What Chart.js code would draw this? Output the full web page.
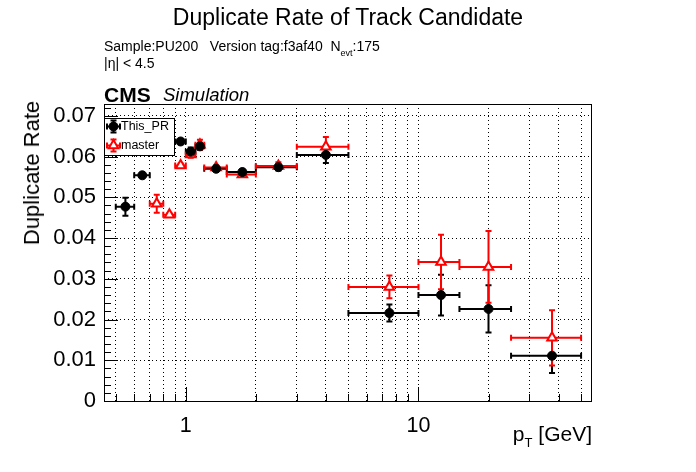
<!DOCTYPE html>
<html>
<head>
<meta charset="utf-8">
<script src="https://cdn.jsdelivr.net/npm/chart.js@4.4.0/dist/chart.umd.min.js"></script>
<style>
  body { margin: 0; background: #fff; }
  #wrap { position: relative; width: 696px; height: 472px; font-family: "Liberation Sans", Arial, sans-serif; color: #000; }
  #c { position: absolute; left: 0; top: 0; }
  .t { position: absolute; white-space: nowrap; line-height: 1; }
  .sub { position: relative; }
</style>
</head>
<body>
<div id="wrap">
  <canvas id="c" width="696" height="472"></canvas>
  <div class="t" style="left:0;width:696px;text-align:center;top:6px;font-size:23px">Duplicate Rate of Track Candidate</div>
  <div class="t" style="left:104px;top:39px;font-size:14px">Sample:PU200&nbsp;&nbsp;&nbsp;Version tag:f3af40&nbsp;&nbsp;N<span class="sub" style="font-size:9px;top:5px">evt</span>:175</div>
  <div class="t" style="left:104px;top:56px;font-size:14px">|η| &lt; 4.5</div>
  <div class="t" style="left:104px;top:84px;font-size:21px;font-weight:bold">CMS</div>
  <div class="t" style="left:163px;top:86px;font-size:18.5px;font-style:italic">Simulation</div>
  <div class="t" style="left:32px;top:173px;font-size:22px;transform:translate(-50%,-50%) rotate(-90deg)">Duplicate Rate</div>
  <div class="t" style="right:104px;top:423px;font-size:21px">p<span class="sub" style="font-size:13px;top:6px">T</span> [GeV]</div>
  <div class="t" style="left:121px;top:120px;font-size:12.5px">This_PR</div>
  <div class="t" style="left:121px;top:139px;font-size:12.5px">master</div>
</div>
<script>
// bin edges in pT [GeV]
const binLow  = [0.5, 0.6, 0.7, 0.8, 0.9, 1.0, 1.1, 1.2, 1.5, 2, 3, 5, 10, 15, 25];
const binHigh = [0.6, 0.7, 0.8, 0.9, 1.0, 1.1, 1.2, 1.5, 2, 3, 5, 10, 15, 25, 50];

// This_PR
const prRate = [0.0477, 0.0554, null, null, 0.0637, 0.0612, 0.0625, 0.0570, 0.0562, 0.0574, 0.0604, 0.0216, 0.0260, 0.0226, 0.0111];
const prErr  = [0.0022, 0.0004, null, null, 0.0004, 0.0010, 0.0008, 0.0005, 0.0006, 0.0008, 0.0020, 0.0021, 0.0050, 0.0058, 0.0042];

// master
const masterRate = [null, null, 0.0484, 0.0457, 0.0578, 0.0605, 0.0629, 0.0573, 0.0556, 0.0577, 0.0624, 0.0280, 0.0341, 0.0329, 0.0155];
const masterErr  = [null, null, 0.0022, 0.0004, 0.0005, 0.0008, 0.0012, 0.0005, 0.0006, 0.0009, 0.0024, 0.0028, 0.0067, 0.0088, 0.0068];

const xGrid = [0.5, 0.6, 0.7, 0.8, 0.9, 1, 2, 3, 4, 5, 6, 7, 8, 9, 10, 20, 30, 40, 50];
const xLabels = [1, 10];
const yTicks = [0, 0.01, 0.02, 0.03, 0.04, 0.05, 0.06, 0.07];

function points(rate) {
  return binLow.map((lo, i) => ({ x: (lo + binHigh[i]) / 2, y: rate[i] }));
}

function marker(ctx, style, x, y) {
  ctx.save();
  if (style === "circle") {
    ctx.fillStyle = "#000"; ctx.strokeStyle = "#000"; ctx.lineWidth = 1;
    Chart.helpers.drawPoint(ctx, { pointStyle: "circle", radius: 4.5, rotation: 0, borderWidth: 1 }, x, y);
  } else {
    ctx.fillStyle = "#fff"; ctx.strokeStyle = "#ff0000"; ctx.lineWidth = 2;
    Chart.helpers.drawPoint(ctx, { pointStyle: "triangle", radius: 5.5, rotation: 0, borderWidth: 2 }, x, y);
  }
  ctx.restore();
}

const errorBars = {
  id: "errorBars",
  beforeDatasetsDraw(chart) {
    const ctx = chart.ctx, xs = chart.scales.x, ys = chart.scales.y;
    const area = chart.chartArea;

    // frame + inner ticks
    ctx.save();
    ctx.strokeStyle = "#000";
    ctx.lineWidth = 1;
    ctx.beginPath();
    for (let k = 0; k * 0.002 <= 0.0729; k++) {
      const y = Math.round(ys.getPixelForValue(k * 0.002)) + 0.5;
      ctx.moveTo(area.left, y);
      ctx.lineTo(area.left + (k % 5 === 0 ? 14 : 7), y);
    }
    xGrid.forEach(v => {
      const x = Math.round(xs.getPixelForValue(v)) + 0.5;
      ctx.moveTo(x, area.bottom);
      ctx.lineTo(x, area.bottom - (xLabels.includes(v) ? 14 : 7));
    });
    ctx.stroke();
    ctx.strokeRect(area.left + 0.5, area.top + 0.5, area.right - area.left - 1, area.bottom - area.top);

    // legend box
    ctx.fillStyle = "#fff";
    ctx.fillRect(104, 118, 70, 37);
    ctx.strokeRect(104.5, 118.5, 70, 37);
    ctx.restore();

    const sets = [[prRate, prErr, "#000"], [masterRate, masterErr, "#ff0000"]];
    sets.forEach(([rate, err, color]) => {
      ctx.save();
      ctx.strokeStyle = color;
      ctx.lineWidth = 2;
      ctx.beginPath();
      rate.forEach((v, i) => {
        if (v === null) return;
        const x = xs.getPixelForValue((binLow[i] + binHigh[i]) / 2);
        const x1 = xs.getPixelForValue(binLow[i]);
        const x2 = xs.getPixelForValue(binHigh[i]);
        const y = ys.getPixelForValue(v);
        const y1 = ys.getPixelForValue(v - err[i]);
        const y2 = ys.getPixelForValue(v + err[i]);
        ctx.moveTo(x1, y); ctx.lineTo(x2, y);
        ctx.moveTo(x1, y - 3); ctx.lineTo(x1, y + 3);
        ctx.moveTo(x2, y - 3); ctx.lineTo(x2, y + 3);
        ctx.moveTo(x, y1); ctx.lineTo(x, y2);
        ctx.moveTo(x - 3, y1); ctx.lineTo(x + 3, y1);
        ctx.moveTo(x - 3, y2); ctx.lineTo(x + 3, y2);
      });
      ctx.stroke();
      ctx.restore();
    });

    // legend markers
    [[126.5, "#000", "circle"], [145.5, "#ff0000", "triangle"]].forEach(([y, color, style]) => {
      ctx.save();
      ctx.strokeStyle = color;
      ctx.lineWidth = 2;
      ctx.beginPath();
      ctx.moveTo(107, y); ctx.lineTo(120, y);
      ctx.moveTo(107, y - 3); ctx.lineTo(107, y + 3);
      ctx.moveTo(120, y - 3); ctx.lineTo(120, y + 3);
      ctx.moveTo(113.5, y - 6); ctx.lineTo(113.5, y + 6);
      ctx.moveTo(110.5, y - 6); ctx.lineTo(116.5, y - 6);
      ctx.moveTo(110.5, y + 6); ctx.lineTo(116.5, y + 6);
      ctx.stroke();
      ctx.restore();
      marker(ctx, style, 113.5, y);
    });
  }
};

new Chart(document.getElementById("c"), {
  type: "scatter",
  data: {
    datasets: [
      {
        label: "This_PR",
        data: points(prRate),
        pointStyle: "circle",
        pointRadius: 4.5,
        backgroundColor: "#000",
        borderColor: "#000",
        borderWidth: 1
      },
      {
        label: "master",
        data: points(masterRate),
        pointStyle: "triangle",
        pointRadius: 5.5,
        backgroundColor: "#fff",
        borderColor: "#ff0000",
        borderWidth: 2
      }
    ]
  },
  options: {
    responsive: false,
    animation: false,
    events: [],
    layout: { padding: { left: 0, top: 104, right: 104, bottom: 0 } },
    plugins: { legend: { display: false }, tooltip: { enabled: false } },
    scales: {
      x: {
        type: "logarithmic",
        min: 0.445,
        max: 55.7,
        afterBuildTicks: s => { s.ticks = xGrid.map(v => ({ value: v })); },
        afterFit: s => { s.height = 71; },
        ticks: {
          autoSkip: false,
          maxRotation: 0,
          padding: 12,
          color: "#000",
          font: { family: "Liberation Sans", size: 21.5 },
          callback: v => (xLabels.includes(v) ? String(v) : "")
        },
        grid: { color: "#000", lineWidth: 1, drawTicks: false },
        border: { display: false, dash: [1, 3] }
      },
      y: {
        min: 0,
        max: 0.0729,
        afterBuildTicks: s => { s.ticks = yTicks.map(v => ({ value: v })); },
        afterFit: s => { s.width = 104; },
        ticks: {
          padding: 8,
          color: "#000",
          font: { family: "Liberation Sans", size: 22 },
          callback: v => (v === 0 ? "0" : v.toFixed(2))
        },
        grid: { color: "#000", lineWidth: 1, drawTicks: false },
        border: { display: false, dash: [1, 3] }
      }
    }
  },
  plugins: [errorBars]
});
</script>
</body>
</html>
